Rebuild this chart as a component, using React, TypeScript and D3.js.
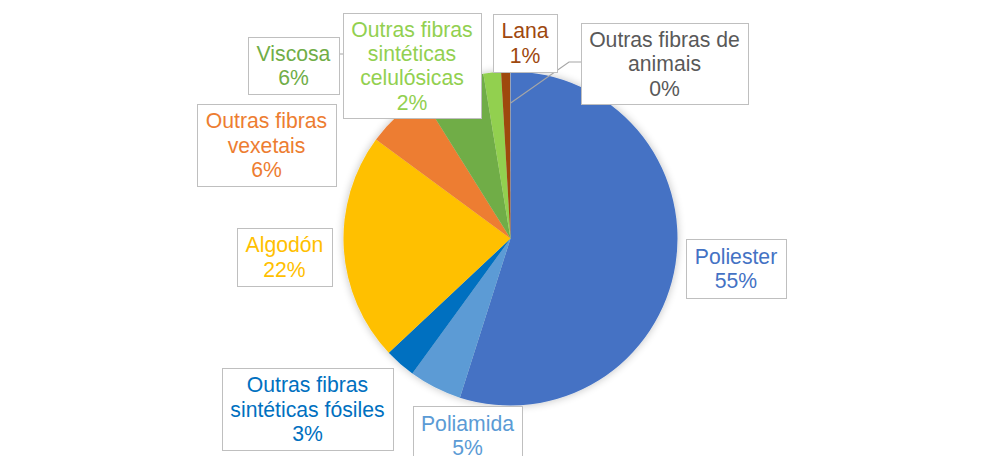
import React from "react";
import * as d3 from "d3";

const categories = [
  "Poliester",
  "Poliamida",
  "Outras fibras sintéticas fósiles",
  "Algodón",
  "Outras fibras vexetais",
  "Viscosa",
  "Outras fibras sintéticas celulósicas",
  "Lana",
  "Outras fibras de animais",
];
const values = [54.9, 5.1, 3.0, 22.1, 6.0, 6.3, 1.7, 0.85, 0.05];
const labelLines = [
  ["Poliester", "55%"],
  ["Poliamida", "5%"],
  ["Outras fibras", "sintéticas fósiles", "3%"],
  ["Algodón", "22%"],
  ["Outras fibras", "vexetais", "6%"],
  ["Viscosa", "6%"],
  ["Outras fibras", "sintéticas", "celulósicas", "2%"],
  ["Lana", "1%"],
  ["Outras fibras de", "animais", "0%"],
];
const colors = [
  "#4472C4",
  "#5B9BD5",
  "#0070C0",
  "#FFC000",
  "#ED7D31",
  "#70AD47",
  "#92D050",
  "#9E480E",
  "#A5A5A5",
];
const textColors = [
  "#4472C4",
  "#5B9BD5",
  "#0070C0",
  "#FFC000",
  "#ED7D31",
  "#70AD47",
  "#92D050",
  "#9E480E",
  "#595959",
];

// label box layout [x, y, w, h]
const boxes: [number, number, number, number][] = [
  [686, 239, 100, 59],
  [413, 406, 109, 59],
  [222, 368, 171, 82],
  [237, 228, 95, 58],
  [197, 104, 139, 82],
  [248, 37, 91, 57],
  [343, 13, 138, 105],
  [493, 14, 64, 58],
  [581, 23, 167, 81],
];

const W = 1000;
const H = 456;
const cx = 510.5;
const cy = 238.5;
const R = 167;
const FS = 21.2;
const LH = 24.4;

export default function App() {
  const pie = d3
    .pie<number>()
    .sort(null)
    .value((d) => d)
    .startAngle(0)
    .endAngle(2 * Math.PI);
  const arcs = pie(values);
  const arc = d3.arc<d3.PieArcDatum<number>>().innerRadius(0).outerRadius(R);

  const mid = (a: d3.PieArcDatum<number>, r: number) => {
    const m = (a.startAngle + a.endAngle) / 2;
    return [cx + r * Math.sin(m), cy - r * Math.cos(m)];
  };

  const visc = mid(arcs[5], R);
  const anim = mid(arcs[8], R * 0.81);
  const viscBox = boxes[5];
  const animBox = boxes[8];

  return (
    <svg
      width={W}
      height={H}
      style={{ position: "absolute", left: 0, top: 0, background: "#fff" }}
      fontFamily="'Liberation Sans', Arial, sans-serif"
    >
      <defs>
        <filter id="sh" x="-20%" y="-20%" width="140%" height="140%">
          <feGaussianBlur in="SourceAlpha" stdDeviation="4" />
          <feOffset dx="0" dy="0" result="b" />
          <feComponentTransfer>
            <feFuncA type="linear" slope="0.25" />
          </feComponentTransfer>
          <feMerge>
            <feMergeNode />
            <feMergeNode in="SourceGraphic" />
          </feMerge>
        </filter>
      </defs>
      <g transform={`translate(${cx},${cy})`} filter="url(#sh)">
        {arcs.map((a, i) => (
          <path key={categories[i]} d={arc(a) || ""} fill={colors[i]} />
        ))}
      </g>
      <g stroke="#A6A6A6" strokeWidth={1.2} fill="none">
        <polyline
          points={`${viscBox[0] + viscBox[2]},${viscBox[1] + 17} ${viscBox[0] + viscBox[2] + 12},${viscBox[1] + 17} ${visc[0]},${visc[1]}`}
        />
        <polyline
          points={`${animBox[0]},${animBox[1] + 39} ${animBox[0] - 12},${animBox[1] + 39} ${anim[0]},${anim[1]}`}
        />
      </g>
      {boxes.map((b, i) => {
        const lines = labelLines[i];
        const tx = b[0] + b[2] / 2;
        const c0 = b[1] + b[3] / 2 - ((lines.length - 1) * LH) / 2;
        return (
          <g key={"lbl" + i}>
            <rect
              x={b[0] + 0.5}
              y={b[1] + 0.5}
              width={b[2]}
              height={b[3]}
              fill="#fff"
              stroke="#BFBFBF"
              strokeWidth={1}
            />
            <text fill={textColors[i]} fontSize={FS} textAnchor="middle">
              {lines.map((l, j) => (
                <tspan key={j} x={tx} y={c0 + j * LH + FS * 0.36}>
                  {l}
                </tspan>
              ))}
            </text>
          </g>
        );
      })}
    </svg>
  );
}
